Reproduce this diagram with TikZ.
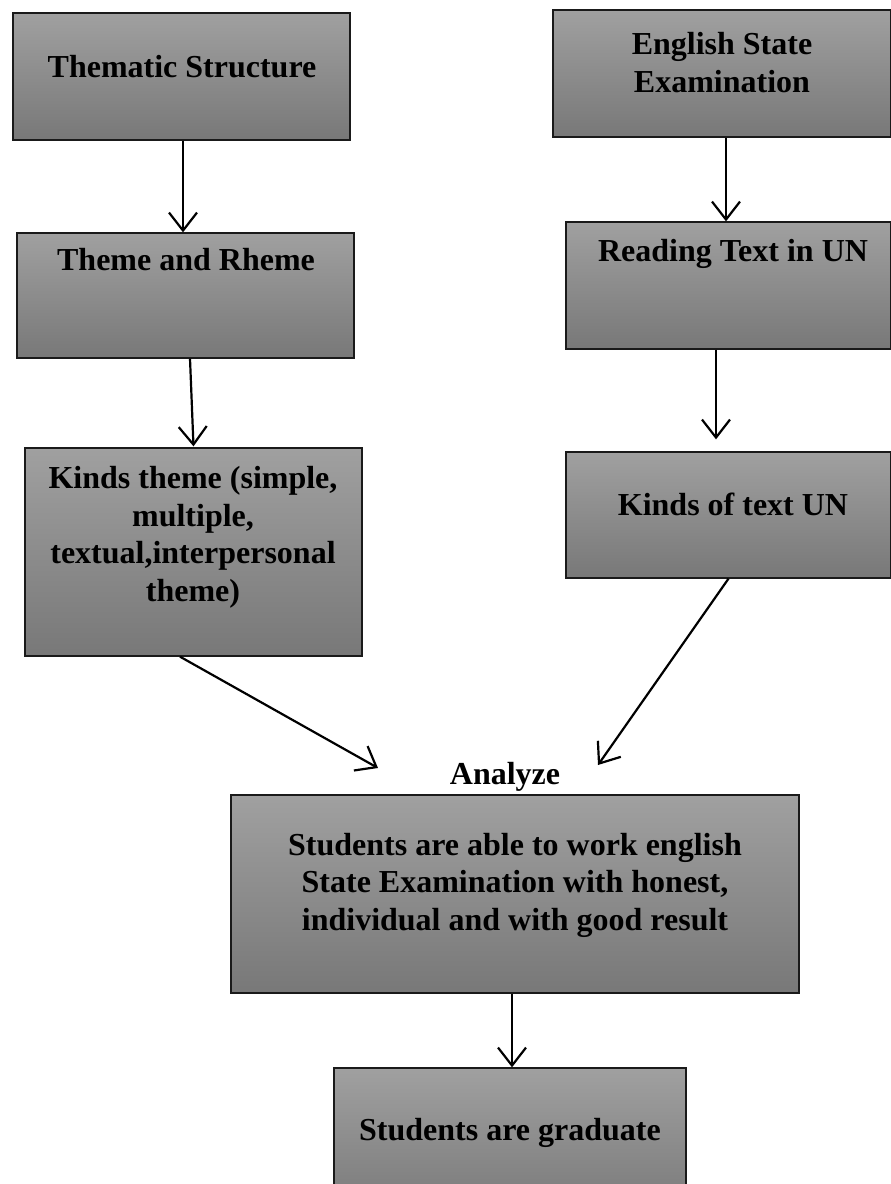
\documentclass[tikz,border=0pt]{standalone}
\usepackage{fontspec}
\setmainfont{Liberation Serif}
\usetikzlibrary{arrows.meta,calc}
\definecolor{boxtop}{HTML}{A0A0A0}
\definecolor{boxbot}{HTML}{787878}
\definecolor{boxline}{HTML}{1A1A1A}
\tikzset{
  flowbox/.style={draw=boxline, line width=1.3pt, top color=boxtop, bottom color=boxbot, rectangle, inner sep=0pt},
  txt/.style={font=\bfseries\fontsize{32}{37.5}\selectfont, align=center, anchor=base, inner sep=0pt},
  arr/.style={-{Straight Barb[length=18pt,width=28pt,line width=2.2pt]}, line width=2.2pt, black}
}
\begin{document}
\begin{tikzpicture}[x=1pt,y=-1pt]
\useasboundingbox (0,0) rectangle (891,1184);
\clip (0,0) rectangle (891,1184);
% boxes
\node[flowbox, minimum width=337pt, minimum height=127pt] (n1) at (181.5,76.5) {};
\node[flowbox, minimum width=338pt, minimum height=127pt] (n2) at (722,73.5) {};
\node[flowbox, minimum width=337pt, minimum height=125pt] (n3) at (185.5,295.5) {};
\node[flowbox, minimum width=325pt, minimum height=127pt] (n4) at (728.5,285.5) {};
\node[flowbox, minimum width=337pt, minimum height=208pt] (n5) at (193.5,552) {};
\node[flowbox, minimum width=325pt, minimum height=126pt] (n6) at (728.5,515) {};
\node[flowbox, minimum width=568pt, minimum height=198pt] (n7) at (515,894) {};
\node[flowbox, minimum width=352pt, minimum height=150pt] (n8) at (510,1143) {};
% texts (multi-line: anchor base = last line baseline)
\node[txt] (t1) at (182,77) {Thematic Structure};
\node[txt] (t2) at (722,92) {English State\\Examination};
\node[txt] (t3) at (186,270) {Theme and Rheme};
\node[txt] (t4) at (733,261) {Reading Text in UN};
\node[txt] (t5) at (193,601) {Kinds theme (simple,\\multiple,\\textual,interpersonal\\theme)};
\node[txt] (t6) at (733,515) {Kinds of text UN};
\node[txt] (lab) at (505,784) {Analyze};
\node[txt] (t7) at (515,930) {Students are able to work english\\State Examination with honest,\\individual and with good result};
\node[txt] (t8) at (510,1140) {Students are graduate};
% free ends
\coordinate (e1) at (378,768);
\coordinate (e2) at (598,765);
% connectors
\draw[arr] ([xshift=1.5pt]n1.south) -- ([xshift=1.5pt]n1.south |- n3.north);
\draw[arr] ([xshift=4pt]n2.south) -- ([xshift=4pt]n2.south |- n4.north);
\draw[arr] ([xshift=4.5pt]n3.south) -- ([yshift=1pt]n5.north);
\draw[arr] ([xshift=-12.5pt]n4.south) -- ([xshift=-12.5pt,yshift=12pt]n6.north);
\draw[arr] ([xshift=-13.5pt]n5.south) -- (e1);
\draw[arr] (n6.south) -- (e2);
\draw[arr] ([xshift=-3pt]n7.south) -- ([xshift=-3pt]n7.south |- n8.north);
\end{tikzpicture}
\end{document}
